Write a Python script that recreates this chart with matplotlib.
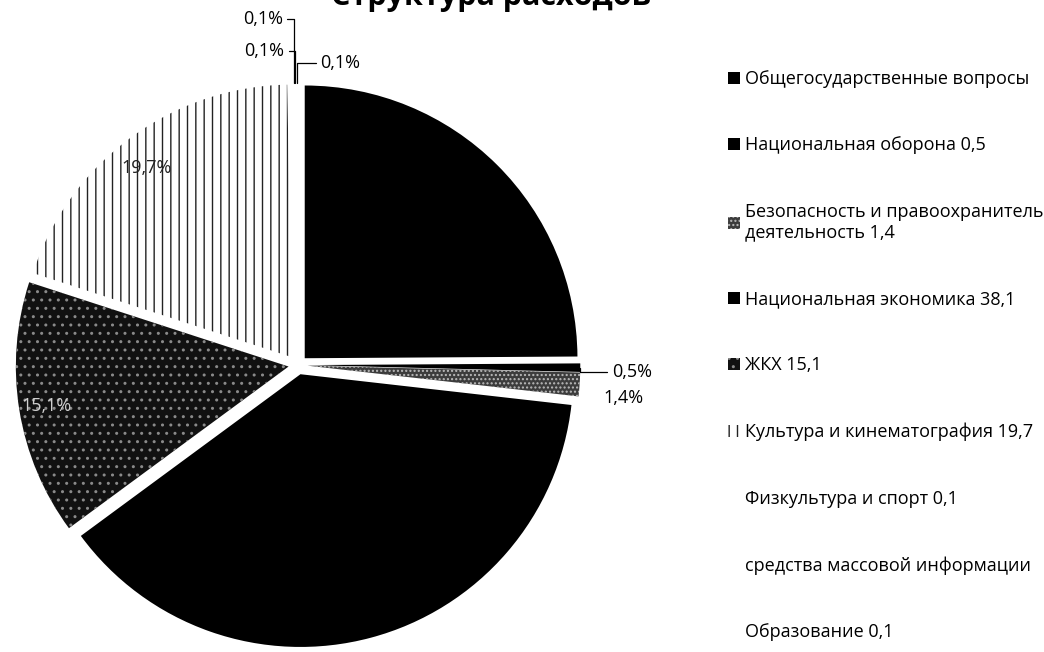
import matplotlib
matplotlib.use("Agg")
import matplotlib.pyplot as plt
import numpy as np

plt.rcParams['font.family'] = ['Open Sans', 'DejaVu Sans']

# данные
categories = ['Общегосударственные вопросы', 'Национальная оборона', 'Безопасность и правоохранительная\nдеятельность',
              'Национальная экономика', 'ЖКХ', 'Культура и кинематография', 'Физкультура и спорт',
              'средства массовой информации', 'Образование']
values = [24.9, 0.5, 1.4, 38.1, 15.1, 19.7, 0.1, 0.1, 0.1]
legend_labels = ['Общегосударственные вопросы', 'Национальная оборона 0,5',
                 'Безопасность и правоохранительная\nдеятельность 1,4', 'Национальная экономика 38,1',
                 'ЖКХ 15,1', 'Культура и кинематография 19,7', 'Физкультура и спорт 0,1',
                 'средства массовой информации', 'Образование 0,1']

# стили секторов (скан в оттенках серого)
faces = ['black', 'black', '#3c3c3c', 'black', '#111111', 'white', 'white', 'white', 'white']
hatches = [None, None, '....', None, '..', '||', None, None, None]
hatch_cols = ['black', 'black', '#bbbbbb', 'black', '#8a8a8a', '#222222', 'white', 'white', 'white']

fig = plt.figure(figsize=(10.44, 6.52), dpi=100)
W, H = 1044, 652
cx, cy, side = 298, 365, 600
ax = fig.add_axes([(cx - side / 2) / W, (H - cy - side / 2) / H, side / W, side / H])


def fmt(p):
    return ('%.1f%%' % p).replace('.', ',') if p > 5 else ''


wedges, texts, autotexts = ax.pie(values, startangle=90, counterclock=False,
                                  explode=[0.035] * len(values), autopct=fmt, pctdistance=0.9,
                                  radius=1.0, wedgeprops=dict(linewidth=0),
                                  textprops=dict(fontsize=13, color='black'))
ax.set_xlim(-1.1, 1.1)
ax.set_ylim(-1.1, 1.1)
ax.set_aspect('equal')
ax.axis('off')

for w, fc, hc, hh in zip(wedges, faces, hatch_cols, hatches):
    w.set_facecolor(fc)
    w.set_edgecolor(hc)
    w.set_linewidth(0)
    if hh:
        w.set_hatch(hh)

# подпись ЖКХ на чёрном фоне видна светлой
autotexts[4].set_color('#cfcfcf')
autotexts[5].set_color('#222222')
autotexts[5].set_position((autotexts[5].get_position()[0], autotexts[5].get_position()[1] - 0.03))

# подписи малых секторов
small_pos = {1: (1.15, -0.026), 2: (1.12, -0.12), 6: (-0.055, 1.27), 7: (-0.05, 1.15), 8: (0.08, 1.106)}
for i, (tx, ty) in small_pos.items():
    w = wedges[i]
    ang = np.deg2rad((w.theta1 + w.theta2) / 2)
    ex, ey = w.center[0] + np.cos(ang) * 1.0, w.center[1] + np.sin(ang) * 1.0
    lab = ('%.1f%%' % values[i]).replace('.', ',')
    if i == 2:
        ax.text(tx, ty, lab, fontsize=13, ha='left', va='center')
    else:
        ha = 'left' if tx > ex else 'right'
        ax.annotate(lab, xy=(ex, ey), xytext=(tx, ty), fontsize=13, ha=ha, va='center',
                    annotation_clip=False,
                    arrowprops=dict(arrowstyle='-', lw=0.9, color='black', shrinkA=1, shrinkB=0,
                                    connectionstyle='angle,angleA=0,angleB=90,rad=0'))

fig.text(0.47, 1.005, 'Структура расходов', fontsize=22, fontweight='bold', ha='center', va='center')

fig.legend(wedges, legend_labels, loc='upper left', bbox_to_anchor=(728 / W, 1 - 70 / H),
           frameon=False, fontsize=13, labelspacing=2.68, handlelength=0.65, handleheight=0.65,
           handletextpad=0.3, borderaxespad=0, borderpad=0)

fig.savefig('out.png', dpi=100)
